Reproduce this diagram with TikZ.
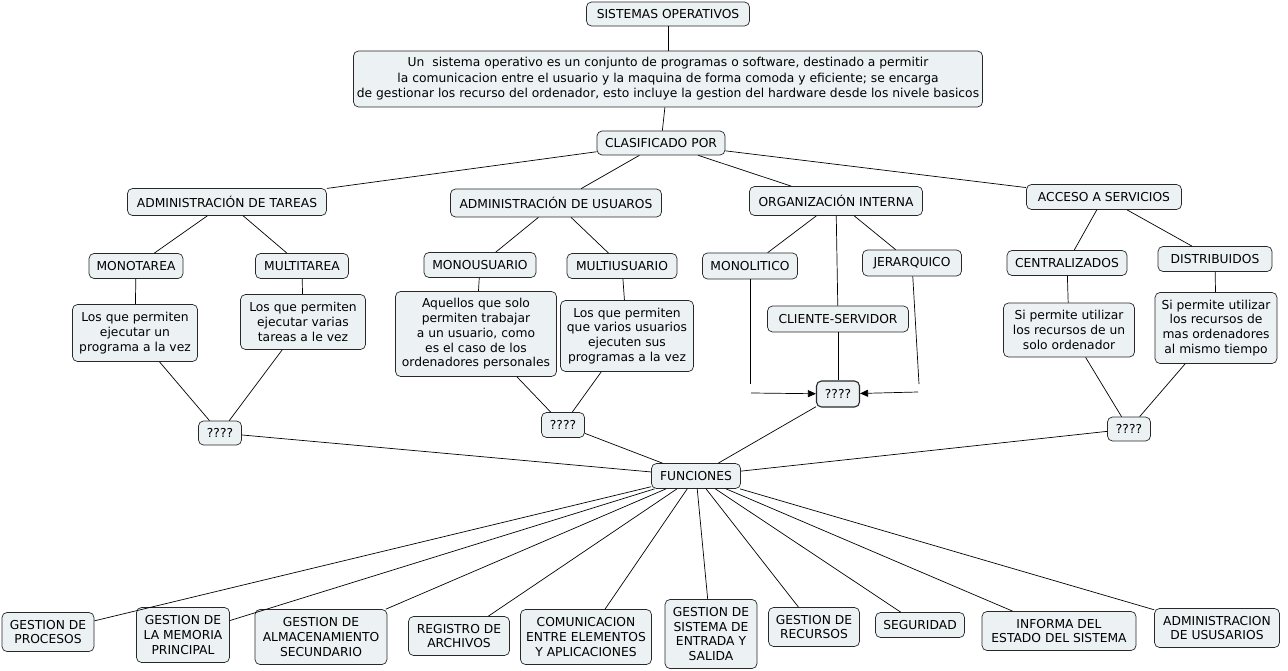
\documentclass[tikz,border=0pt]{standalone}
\usepackage{fontspec}
\setmainfont{DejaVu Sans}
\usetikzlibrary{arrows.meta}
\definecolor{boxfill}{RGB}{236,242,244}
\definecolor{boxline}{RGB}{40,40,40}
\begin{document}
\begin{tikzpicture}[x=1pt,y=-1pt,
  box/.style={draw=boxline, line width=0.7pt, rounded corners=5pt, fill=boxfill, align=center, inner sep=1pt, font=\fontsize{12.3}{14.8}\selectfont},
  qbox/.style={box, line width=1.1pt},
  link/.style={draw=black, line width=0.7pt},
  arr/.style={link, -{Triangle[length=8pt,width=7pt]}}]
\useasboundingbox (0,0) rectangle (1288,671);
\fill[white] (0,0) rectangle (1288,671);
% top
\node[box, minimum width=163pt, minimum height=24pt] (so) at (668,14) {SISTEMAS OPERATIVOS};
\node[box, minimum width=629pt, minimum height=56pt, font=\fontsize{12.3}{15.5}\selectfont] (desc) at (668,79) {Un\ \ sistema operativo es un conjunto de programas o software, destinado a permitir\\la comunicacion entre el usuario y la maquina de forma comoda y eficiente; se encarga\\de gestionar los recurso del ordenador, esto incluye la gestion del hardware desde los nivele basicos};
\node[box, minimum width=128pt, minimum height=24pt] (clas) at (661,143) {CLASIFICADO POR};
% level 2
\node[box, minimum width=199pt, minimum height=27pt] (at) at (227,202) {ADMINISTRACIÓN DE TAREAS};
\node[box, minimum width=211pt, minimum height=28pt] (au) at (556,203) {ADMINISTRACIÓN DE USUAROS};
\node[box, minimum width=173pt, minimum height=29pt] (oi) at (836,201) {ORGANIZACIÓN INTERNA};
\node[box, minimum width=155pt, minimum height=25pt] (as) at (1104,197) {ACCESO A SERVICIOS};
% level 3
\node[box, minimum width=94pt, minimum height=25pt] (mt) at (136,266) {MONOTAREA};
\node[box, minimum width=93pt, minimum height=25pt] (mlt) at (302,266) {MULTITAREA};
\node[box, minimum width=112pt, minimum height=25pt] (mu) at (480,265) {MONOUSUARIO};
\node[box, minimum width=110pt, minimum height=25pt] (mlu) at (622,266) {MULTIUSUARIO};
\node[box, minimum width=95pt, minimum height=26pt] (mono) at (750,266) {MONOLITICO};
\node[box, minimum width=99pt, minimum height=26pt] (jer) at (912,263) {JERARQUICO};
\node[box, minimum width=141pt, minimum height=26pt] (cs) at (838,319) {CLIENTE-SERVIDOR};
\node[box, minimum width=120pt, minimum height=25pt] (cen) at (1067,263) {CENTRALIZADOS};
\node[box, minimum width=114pt, minimum height=25pt] (dis) at (1215,259) {DISTRIBUIDOS};
% level 4
\node[box, minimum width=125pt, minimum height=57pt] (d1) at (135,333) {Los que permiten\\ejecutar un\\programa a la vez};
\node[box, minimum width=125pt, minimum height=55pt] (d2) at (303,322) {Los que permiten\\ejecutar varias\\tareas a le vez};
\node[box, minimum width=161pt, minimum height=85pt] (d3) at (476,334) {Aquellos que solo\\permiten trabajar\\a un usuario, como\\es el caso de los\\ordenadores personales};
\node[box, minimum width=133pt, minimum height=71pt] (d4) at (627,336) {Los que permiten\\que varios usuarios\\ejecuten sus\\programas a la vez};
\node[box, minimum width=131pt, minimum height=54pt] (d5) at (1069,330) {Si permite utilizar\\los recursos de un\\solo ordenador};
\node[box, minimum width=122pt, minimum height=71pt] (d6) at (1216,328) {Si permite utilizar\\los recursos de\\mas ordenadores\\al mismo tiempo};
% ????
\node[box, minimum width=43pt, minimum height=24pt] (q1) at (220,433) {????};
\node[box, minimum width=43pt, minimum height=25pt] (q2) at (563,425) {????};
\node[qbox, minimum width=43pt, minimum height=26pt] (q3) at (838,394) {????};
\node[box, minimum width=43pt, minimum height=24pt] (q4) at (1129,429) {????};
\node[box, minimum width=89pt, minimum height=25pt] (fun) at (696,476) {FUNCIONES};
% bottom
\node[box, minimum width=92pt, minimum height=39pt] (b1) at (48,632) {GESTION DE\\PROCESOS};
\node[box, minimum width=93pt, minimum height=55pt] (b2) at (183,635) {GESTION DE\\LA MEMORIA\\PRINCIPAL};
\node[box, minimum width=132pt, minimum height=55pt] (b3) at (321,637) {GESTION DE\\ALMACENAMIENTO\\SECUNDARIO};
\node[box, minimum width=101pt, minimum height=39pt] (b4) at (459,636) {REGISTRO DE\\ARCHIVOS};
\node[box, minimum width=131pt, minimum height=55pt] (b5) at (586,637) {COMUNICACION\\ENTRE ELEMENTOS\\Y APLICACIONES};
\node[box, minimum width=92pt, minimum height=69pt] (b6) at (711,634) {GESTION DE\\SISTEMA DE\\ENTRADA Y\\SALIDA};
\node[box, minimum width=91pt, minimum height=39pt] (b7) at (814,627) {GESTION DE\\RECURSOS};
\node[box, minimum width=89pt, minimum height=25pt] (b8) at (920,625) {SEGURIDAD};
\node[box, minimum width=154pt, minimum height=39pt] (b9) at (1059,631) {INFORMA DEL\\ESTADO DEL SISTEMA};
\node[box, minimum width=125pt, minimum height=39pt] (b10) at (1217,628) {ADMINISTRACION\\DE USUSARIOS};
% free ends
\coordinate (mlend) at (750,384);
\coordinate (mlstart) at (751,393);
\coordinate (jerend) at (919,384);
\coordinate (jerstart) at (918,392);
% links
\draw[link] (so) -- (desc);
\draw[link] (desc) -- (clas);
\draw[link] (clas) -- (at);
\draw[link] (clas) -- (au);
\draw[link] (clas) -- (oi);
\draw[link] (clas) -- (as);
\draw[link] (at) -- (mt);
\draw[link] (at) -- (mlt);
\draw[link] (mt) -- (d1);
\draw[link] (mlt) -- (d2);
\draw[link] (d1) -- (q1);
\draw[link] (d2) -- (q1);
\draw[link] (au) -- (mu);
\draw[link] (au) -- (mlu);
\draw[link] (mu) -- (d3);
\draw[link] (mlu) -- (d4);
\draw[link] (d3) -- (q2);
\draw[link] (d4) -- (q2);
\draw[link] (oi) -- (mono);
\draw[link] (oi) -- (jer);
\draw[link] (oi) -- (cs);
\draw[link] (cs) -- (q3);
\draw[link] (mono) -- (mlend);
\draw[link] (jer) -- (jerend);
\draw[arr] (mlstart) -- (q3);
\draw[arr] (jerstart) -- (q3);
\draw[link] (as) -- (cen);
\draw[link] (as) -- (dis);
\draw[link] (cen) -- (d5);
\draw[link] (dis) -- (d6);
\draw[link] (d5) -- (q4);
\draw[link] (d6) -- (q4);
\draw[link] (q1) -- (fun);
\draw[link] (q2) -- (fun);
\draw[link] (q3) -- (fun);
\draw[link] (q4) -- (fun);
\foreach \b in {b1,b2,b3,b4,b5,b6,b7,b8,b9,b10} {\draw[link] (fun) -- (\b);}
\end{tikzpicture}
\end{document}
